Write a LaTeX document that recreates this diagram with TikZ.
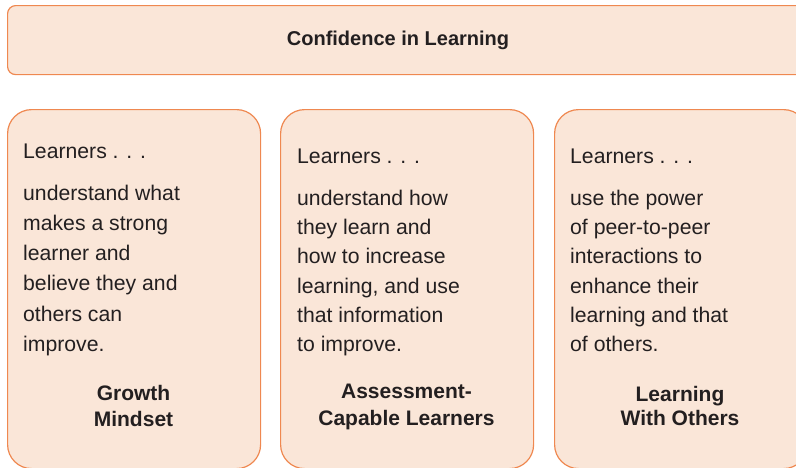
\documentclass[tikz,border=0pt]{standalone}
\usepackage{fontspec}
\setmainfont{Liberation Sans}
\definecolor{boxfill}{HTML}{FAE6D8}
\definecolor{boxline}{HTML}{EF8850}
\definecolor{ink}{HTML}{231F20}
\tikzset{
  panel/.style={draw=boxline, fill=boxfill, line width=1.2pt, rounded corners=24pt, inner sep=0pt, anchor=north west},
  banner/.style={draw=boxline, fill=boxfill, line width=1.2pt, rounded corners=8pt, inner sep=0pt, anchor=north west},
  body/.style={inner sep=0pt, anchor=base west, text=ink, font=\fontsize{21.2}{30}\selectfont},
  head/.style={inner sep=0pt, anchor=base, text=ink, font=\fontsize{21}{25}\selectfont\bfseries},
  toph/.style={inner sep=0pt, anchor=center, text=ink, font=\fontsize{20}{24}\selectfont\bfseries},
}
\begin{document}
\begin{tikzpicture}[x=1pt,y=-1pt]
\useasboundingbox (0,0) rectangle (796,467);
\clip (0,0) rectangle (796,467);
\node[banner, minimum width=805pt, minimum height=69pt] (top) at (7,5) {};
\node[toph] (toptext) at (398,40) {Confidence in Learning};

\node[panel, minimum width=253pt, minimum height=359pt] (b1) at (7,109) {};
\node[panel, minimum width=253pt, minimum height=359pt] (b2) at (280,109) {};
\node[panel, minimum width=253pt, minimum height=359pt] (b3) at (554,109) {};

% box 1
\node[body] (l1) at (23,158) {Learners . . .};
\foreach \t [count=\i] in {understand what, makes a strong, learner and, believe they and, others can, improve.}
  \node[body] (a\i) at (23,{170+30.2*\i}) {\t};
\node[head] (h1a) at (133.5,400) {Growth};
\node[head] (h1b) at (133.5,426) {Mindset};

% box 2
\node[body] (l2) at (297,163) {Learners . . .};
\foreach \t [count=\i] in {understand how, they learn and, how to increase, {learning, and use}, that information, to improve.}
  \node[body] (b\i) at (297,{176+29.3*\i}) {\t};
\node[head] (h2a) at (406.5,398) {Assessment-};
\node[head] (h2b) at (406.5,425) {Capable Learners};

% box 3
\node[body] (l3) at (570,163) {Learners . . .};
\foreach \t [count=\i] in {use the power, of peer-to-peer, interactions to, enhance their, learning and that, of others.}
  \node[body] (c\i) at (570,{176+29.3*\i}) {\t};
\node[head] (h3a) at (680,401) {Learning};
\node[head] (h3b) at (680,425) {With Others};
\end{tikzpicture}
\end{document}
